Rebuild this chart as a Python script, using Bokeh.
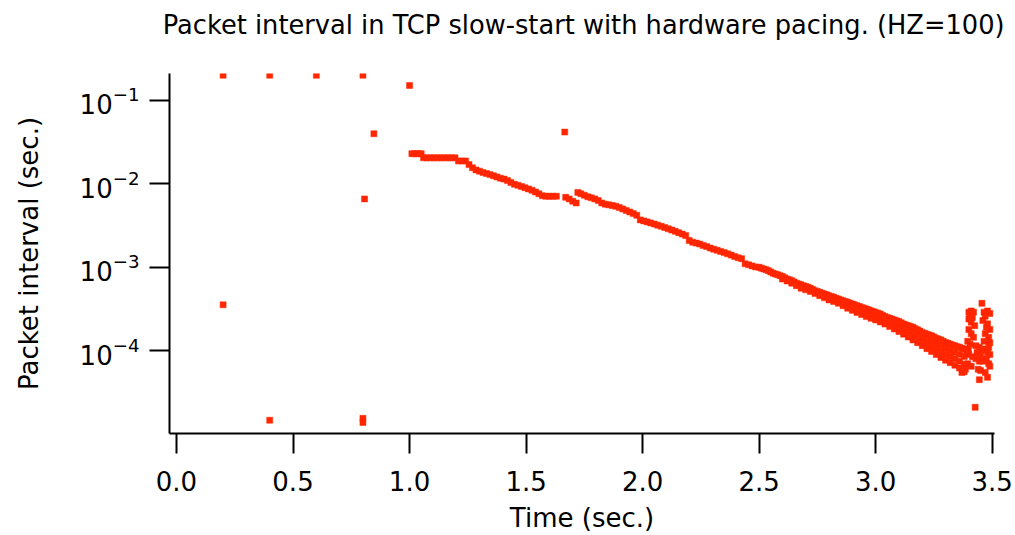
from bokeh.plotting import figure
from bokeh.embed import file_html
from bokeh.resources import INLINE
from bokeh.models import FixedTicker, NumeralTickFormatter, ColumnDataSource, Title

# ---- data (seconds) ----
# isolated early packets
early_t = [0.200, 0.400, 0.600, 0.800, 1.000, 0.847, 0.807, 0.200, 0.400, 0.800, 0.800, 1.666]
early_v = [0.200, 0.200, 0.200, 0.200, 0.151, 0.0398, 0.0066, 3.55e-4, 1.47e-5, 1.55e-5, 1.38e-5, 0.0417]

# main slow-start trace, first part (1.0 - 1.72 s)
trace1_t = [1.010, 1.020, 1.030, 1.040, 1.050,
            1.060, 1.075, 1.090, 1.105, 1.120, 1.135, 1.150, 1.165, 1.180, 1.195,
            1.210, 1.225, 1.240,
            1.255, 1.270, 1.285, 1.300, 1.315, 1.330, 1.345, 1.360, 1.375, 1.390,
            1.405, 1.420, 1.435, 1.450, 1.465, 1.480, 1.495, 1.510, 1.525, 1.540,
            1.555, 1.570, 1.585, 1.600, 1.615, 1.630,
            1.670, 1.685, 1.700, 1.715]
trace1_v = [0.0230, 0.0230, 0.0230, 0.0230, 0.0230,
            0.0205, 0.0205, 0.0205, 0.0205, 0.0205, 0.0205, 0.0205, 0.0205, 0.0205, 0.0205,
            0.0188, 0.0188, 0.0188,
            0.0170, 0.0156, 0.0147, 0.0142, 0.0137, 0.0133, 0.0129, 0.0125, 0.0121, 0.0117,
            0.0114, 0.0110, 0.0104, 0.0099, 0.0096, 0.0093, 0.0090, 0.0087, 0.0084, 0.0080,
            0.0076, 0.0072, 0.0071, 0.0071, 0.0071, 0.0071,
            0.0069, 0.0066, 0.0062, 0.0059]

# main trace, second part (1.72 - 2.50 s)
trace2_t = [1.722, 1.735, 1.750, 1.765, 1.780, 1.795, 1.810, 1.825, 1.840, 1.855,
            1.870, 1.885, 1.900, 1.915, 1.930, 1.945, 1.960, 1.975, 1.990, 2.005,
            2.020, 2.035, 2.050, 2.065, 2.080, 2.095, 2.110, 2.125, 2.140, 2.155,
            2.170, 2.185, 2.200, 2.215, 2.230, 2.245, 2.260, 2.275, 2.290, 2.305,
            2.320, 2.335, 2.350, 2.365, 2.380, 2.395, 2.410, 2.425, 2.440, 2.455,
            2.470, 2.485]
trace2_v = [0.0079, 0.0076, 0.0073, 0.0070, 0.0068, 0.0066, 0.0063, 0.0059, 0.0057, 0.0056,
            0.0055, 0.0054, 0.0052, 0.0050, 0.0048, 0.0046, 0.0044, 0.0042, 0.0037, 0.0036,
            0.0035, 0.0034, 0.0033, 0.0032, 0.0031, 0.0030, 0.0029, 0.0028, 0.0027, 0.0026,
            0.0025, 0.0024, 0.0021, 0.0020, 0.00195, 0.0019, 0.00183, 0.00177, 0.0017, 0.00165,
            0.0016, 0.00155, 0.0015, 0.00145, 0.0014, 0.00135, 0.0013, 0.00127, 0.0011, 0.00107,
            0.00104, 0.00101]

# main trace, upper edge of the band (2.50 - 3.38 s)
upper_t = [2.50, 2.51, 2.52, 2.53, 2.54, 2.55, 2.56, 2.57, 2.58, 2.59,
           2.60, 2.61, 2.62, 2.63, 2.64, 2.65, 2.66, 2.67, 2.68, 2.69,
           2.70, 2.71, 2.72, 2.73, 2.74, 2.75, 2.76, 2.77, 2.78, 2.79,
           2.80, 2.81, 2.82, 2.83, 2.84, 2.85, 2.86, 2.87, 2.88, 2.89,
           2.90, 2.91, 2.92, 2.93, 2.94, 2.95, 2.96, 2.97, 2.98, 2.99,
           3.00, 3.01, 3.02, 3.03, 3.04, 3.05, 3.06, 3.07, 3.08, 3.09,
           3.10, 3.11, 3.12, 3.13, 3.14, 3.15, 3.16, 3.17, 3.18, 3.19,
           3.20, 3.21, 3.22, 3.23, 3.24, 3.25, 3.26, 3.27, 3.28, 3.29,
           3.30, 3.31, 3.32, 3.33, 3.34, 3.35, 3.36, 3.37, 3.38]
upper_v = [1.00e-3, 9.77e-4, 9.55e-4, 9.33e-4, 9.12e-4, 8.81e-4, 8.51e-4, 8.32e-4, 8.13e-4, 7.94e-4,
           7.76e-4, 7.50e-4, 7.24e-4, 7.08e-4, 6.92e-4, 6.68e-4, 6.46e-4, 6.31e-4, 6.17e-4, 6.03e-4,
           5.89e-4, 5.75e-4, 5.62e-4, 5.43e-4, 5.25e-4, 5.13e-4, 5.01e-4, 4.90e-4, 4.79e-4, 4.68e-4,
           4.57e-4, 4.47e-4, 4.37e-4, 4.27e-4, 4.17e-4, 4.07e-4, 3.98e-4, 3.89e-4, 3.80e-4, 3.72e-4,
           3.63e-4, 3.55e-4, 3.47e-4, 3.39e-4, 3.31e-4, 3.24e-4, 3.16e-4, 3.09e-4, 3.02e-4, 2.95e-4,
           2.88e-4, 2.82e-4, 2.75e-4, 2.66e-4, 2.57e-4, 2.51e-4, 2.45e-4, 2.40e-4, 2.34e-4, 2.29e-4,
           2.24e-4, 2.16e-4, 2.09e-4, 2.04e-4, 2.00e-4, 1.95e-4, 1.91e-4, 1.84e-4, 1.78e-4, 1.72e-4,
           1.66e-4, 1.62e-4, 1.58e-4, 1.55e-4, 1.51e-4, 1.46e-4, 1.41e-4, 1.38e-4, 1.35e-4, 1.30e-4,
           1.26e-4, 1.23e-4, 1.20e-4, 1.17e-4, 1.15e-4, 1.12e-4, 1.10e-4, 1.07e-4, 1.05e-4]

# middle of the band (2.80 - 3.08 s)
mid_t = [2.80, 2.82, 2.84, 2.86, 2.88, 2.90, 2.92, 2.94, 2.96, 2.98,
         3.00, 3.02, 3.04, 3.06, 3.08]
mid_v = [4.31e-4, 4.12e-4, 3.94e-4, 3.72e-4, 3.51e-4, 3.33e-4, 3.16e-4, 3.00e-4, 2.85e-4, 2.72e-4,
         2.59e-4, 2.46e-4, 2.32e-4, 2.19e-4, 2.06e-4]

# widening band, one third and two thirds down (3.10 - 3.38 s)
q1_t = [3.10, 3.12, 3.14, 3.16, 3.18, 3.20, 3.22, 3.24, 3.26, 3.28, 3.30, 3.32, 3.34, 3.36, 3.38]
q1_v = [2.04e-4, 1.91e-4, 1.80e-4, 1.70e-4, 1.58e-4, 1.47e-4, 1.38e-4, 1.31e-4, 1.21e-4, 1.15e-4,
        1.07e-4, 1.01e-4, 9.6e-5, 9.08e-5, 8.51e-5]
q2_t = [3.10, 3.12, 3.14, 3.16, 3.18, 3.20, 3.22, 3.24, 3.26, 3.28, 3.30, 3.32, 3.34, 3.36, 3.38]
q2_v = [1.86e-4, 1.73e-4, 1.62e-4, 1.51e-4, 1.41e-4, 1.30e-4, 1.21e-4, 1.13e-4, 1.04e-4, 9.75e-5,
        9.06e-5, 8.53e-5, 8.02e-5, 7.50e-5, 6.90e-5]

# lower edge of the band
lower_t = [2.60, 2.62, 2.64, 2.66, 2.68, 2.70, 2.72, 2.74, 2.76, 2.78,
           2.80, 2.82, 2.84, 2.86, 2.88, 2.90, 2.92, 2.94, 2.96, 2.98,
           3.00, 3.02, 3.04, 3.06, 3.08, 3.10, 3.12, 3.14, 3.16, 3.18,
           3.20, 3.22, 3.24, 3.26, 3.28, 3.30, 3.32, 3.34, 3.36, 3.38]
lower_v = [7.24e-4, 6.85e-4, 6.46e-4, 6.03e-4, 5.62e-4, 5.37e-4, 5.13e-4, 4.84e-4, 4.57e-4, 4.31e-4,
           4.07e-4, 3.89e-4, 3.72e-4, 3.47e-4, 3.24e-4, 3.05e-4, 2.88e-4, 2.72e-4, 2.57e-4, 2.45e-4,
           2.34e-4, 2.21e-4, 2.09e-4, 1.95e-4, 1.82e-4, 1.70e-4, 1.58e-4, 1.46e-4, 1.35e-4, 1.25e-4,
           1.15e-4, 1.06e-4, 9.8e-5, 9.0e-5, 8.3e-5, 7.7e-5, 7.2e-5, 6.7e-5, 6.2e-5, 5.6e-5]

# scattered packets at the end of slow-start
end_t = [3.456, 3.400, 3.410, 3.420, 3.465, 3.480, 3.490, 3.470, 3.400, 3.410,
         3.425, 3.460, 3.480, 3.490, 3.470, 3.485, 3.400, 3.410, 3.420, 3.395,
         3.405, 3.430, 3.445, 3.455, 3.470, 3.485, 3.490, 3.390, 3.400, 3.415,
         3.430, 3.445, 3.460, 3.475, 3.485, 3.490, 3.395, 3.410, 3.440, 3.450,
         3.470, 3.480, 3.445, 3.427, 3.370, 3.385, 3.405, 3.415, 3.475, 3.465,
         3.435, 3.450, 3.490, 3.398, 3.480]
end_v = [3.7e-4, 2.9e-4, 3.0e-4, 2.9e-4, 2.9e-4, 3.0e-4, 2.8e-4, 2.6e-4, 2.4e-4, 2.2e-4,
         2.0e-4, 2.3e-4, 2.1e-4, 1.8e-4, 1.6e-4, 1.45e-4, 1.8e-4, 1.6e-4, 1.45e-4, 1.3e-4,
         1.2e-4, 1.15e-4, 1.1e-4, 1.0e-4, 1.05e-4, 1.1e-4, 9.0e-5, 1.0e-4, 9.0e-5, 8.5e-5,
         8.0e-5, 7.5e-5, 7.5e-5, 8.0e-5, 7.0e-5, 6.5e-5, 7.0e-5, 6.5e-5, 6.0e-5, 5.8e-5,
         5.5e-5, 4.8e-5, 4.5e-5, 2.1e-5, 5.5e-5, 6.0e-5, 2.7e-4, 2.5e-4, 1.9e-4, 1.3e-4,
         9.5e-5, 8.8e-5, 1.25e-4, 1.05e-4, 9.5e-5]

x_ticks = [0.0, 0.5, 1.0, 1.5, 2.0, 2.5, 3.0, 3.5]
TITLE = "Packet interval in TCP slow-start with hardware pacing. (HZ=100)"

RED = "#ff2600"
FONT = "DejaVu Sans"

p = figure(width=1015, height=535, y_axis_type="log",
           x_range=(-0.03, 3.51), y_range=(1.02e-5, 0.21),
           output_backend="svg", toolbar_location=None,
           min_border_left=169, min_border_right=21,
           min_border_top=73, min_border_bottom=102)

all_t = early_t + trace1_t + trace2_t + upper_t + mid_t + q1_t + q2_t + lower_t + end_t
all_v = early_v + trace1_v + trace2_v + upper_v + mid_v + q1_v + q2_v + lower_v + end_v
src = ColumnDataSource(dict(t=all_t, v=all_v))
p.scatter("t", "v", source=src, marker="square", size=6,
          fill_color=RED, line_color=RED, line_width=0.5)

# an empty spacer title next to the frame, then the real title above it
spacer = Title(text=" ", text_font_size="1px", standoff=25)
p.add_layout(spacer, "above")
main_title = Title(text=TITLE, text_font=FONT, text_font_size="25.7px",
                   text_font_style="normal", text_color="black",
                   align="right", offset=-10, standoff=12)
p.add_layout(main_title, "above")

p.outline_line_color = None
p.grid.visible = False
p.background_fill_color = "white"
p.border_fill_color = "white"

for ax in (p.xaxis[0], p.yaxis[0]):
    ax.axis_line_width = 2
    ax.axis_line_color = "black"
    ax.major_tick_line_width = 2
    ax.major_tick_line_color = "black"
    ax.major_tick_out = 20
    ax.major_tick_in = 0
    ax.minor_tick_line_color = None
    ax.major_label_text_font = FONT
    ax.major_label_text_font_size = "26px"
    ax.major_label_text_color = "black"
    ax.axis_label_text_font = FONT
    ax.axis_label_text_font_size = "26px"
    ax.axis_label_text_font_style = "normal"
    ax.axis_label_text_color = "black"

p.xaxis.ticker = FixedTicker(ticks=x_ticks)
p.xaxis.formatter = NumeralTickFormatter(format="0.0")
p.xaxis.axis_label = "Time (sec.)"
p.yaxis.axis_label = "Packet interval (sec.)"
p.xaxis.major_label_standoff = 17
p.yaxis.major_label_standoff = 10
p.xaxis.axis_label_standoff = 9
p.yaxis.axis_label_standoff = 33

open("out.html", "w").write(file_html(p, INLINE))
